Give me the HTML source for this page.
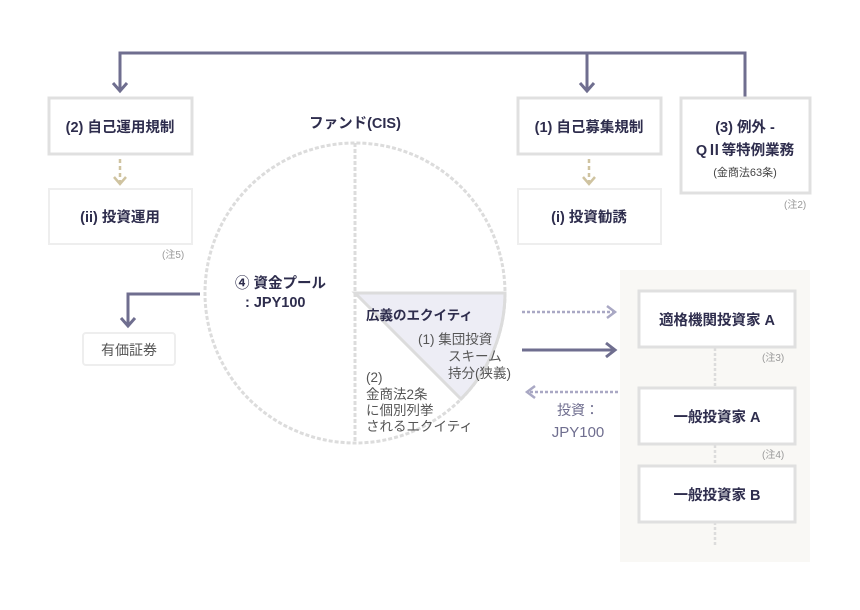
<!DOCTYPE html>
<html><head><meta charset="utf-8"><style>
body{margin:0;background:#fff;}
svg{display:block;font-family:"Liberation Sans","Noto Sans CJK JP",sans-serif;}
.b{font-weight:bold;fill:#2e2d4d;font-size:14.5px;}
.n{fill:#999;font-size:10px;}
.g{fill:#555;font-size:13.5px;}
</style></head><body>
<svg width="860" height="610" viewBox="0 0 860 610">
<g fill="none" stroke="#6f6e8f" stroke-width="3">
<polyline points="120,90 120,53 745,53 745,97"/>
<line x1="587" y1="53" x2="587" y2="90"/>
<polyline points="113,83 120,91 127,83"/>
<polyline points="580,83 587,91 594,83"/>
<polyline points="200,294 128,294 128,325"/>
<polyline points="121,318 128,326 135,318"/>
<line x1="522" y1="350" x2="614" y2="350"/>
<polyline points="606,343 615,350 606,357"/>
</g>
<g fill="none" stroke="#cfc3a0" stroke-width="2.5">
<line x1="120" y1="159" x2="120" y2="182" stroke-dasharray="4,3"/>
<polyline points="114,177 120,184 126,177"/>
<line x1="589" y1="159" x2="589" y2="182" stroke-dasharray="4,3"/>
<polyline points="583,177 589,184 595,177"/>
</g>
<g fill="#fff" stroke="#e0e0e0" stroke-width="3">
<rect x="49" y="98" width="143" height="56"/>
<rect x="518" y="98" width="143" height="56"/>
<rect x="681" y="98" width="129" height="95"/>
</g>
<g fill="#fff" stroke="#eeeeee" stroke-width="2">
<rect x="49" y="189" width="143" height="55"/>
<rect x="518" y="189" width="143" height="55"/>
<rect x="83" y="333" width="92" height="32" rx="3"/>
</g>
<text class="b" x="120" y="132" text-anchor="middle">(2) 自己運用規制</text>
<text class="b" x="120" y="222" text-anchor="middle">(ii) 投資運用</text>
<text class="b" x="589" y="132" text-anchor="middle">(1) 自己募集規制</text>
<text class="b" x="589" y="222" text-anchor="middle">(i) 投資勧誘</text>
<text class="b" x="745" y="132" text-anchor="middle">(3) 例外 -</text>
<text class="b" x="745" y="155" text-anchor="middle">QⅡ等特例業務</text>
<text x="745" y="176" text-anchor="middle" style="font-size:11px;fill:#444">(金商法63条)</text>
<text class="n" x="162" y="258">(注5)</text>
<text class="n" x="784" y="208">(注2)</text>
<text x="129" y="355" text-anchor="middle" style="font-size:14px;fill:#555">有価証券</text>
<text class="b" x="355" y="128" text-anchor="middle">ファンド(CIS)</text>
<path d="M355,293 L505,293 A150,150 0 0 1 461,399 Z" fill="#ededf5" stroke="#dcdcdc" stroke-width="3"/>
<circle cx="355" cy="293" r="150" fill="none" stroke="#dcdcdc" stroke-width="3" stroke-dasharray="4,2"/>
<line x1="355" y1="143" x2="355" y2="443" stroke="#dcdcdc" stroke-width="3" stroke-dasharray="4,2"/>
<text class="b" x="235" y="288">④ 資金プール</text>
<text class="b" x="245" y="307">: JPY100</text>
<text class="b" x="366" y="320" style="font-size:13.5px">広義のエクイティ</text>
<text class="g" x="418" y="344">(1) 集団投資</text>
<text class="g" x="448" y="361">スキーム</text>
<text class="g" x="448" y="378">持分(狭義)</text>
<text class="g" x="366" y="382">(2)</text>
<text class="g" x="366" y="399">金商法2条</text>
<text class="g" x="366" y="415">に個別列挙</text>
<text class="g" x="366" y="431">されるエクイティ</text>
<rect x="620" y="270" width="190" height="292" fill="#f9f8f5"/>
<g stroke="#dcdcdc" stroke-width="2.5" stroke-dasharray="3,2">
<line x1="715" y1="348" x2="715" y2="387"/>
<line x1="715" y1="445" x2="715" y2="465"/>
<line x1="715" y1="522" x2="715" y2="545"/>
</g>
<g fill="#fff" stroke="#e0e0e0" stroke-width="3">
<rect x="639" y="291" width="156" height="56"/>
<rect x="639" y="388" width="156" height="56"/>
<rect x="639" y="466" width="156" height="56"/>
</g>
<text class="b" x="717" y="325" text-anchor="middle">適格機関投資家 A</text>
<text class="b" x="717" y="422" text-anchor="middle">一般投資家 A</text>
<text class="b" x="717" y="500" text-anchor="middle">一般投資家 B</text>
<text class="n" x="762" y="361">(注3)</text>
<text class="n" x="762" y="458">(注4)</text>
<g fill="none" stroke="#a9a8c4" stroke-width="2.5">
<line x1="522" y1="312" x2="614" y2="312" stroke-dasharray="3,2"/>
<polyline points="607,306 615,312 607,318"/>
<line x1="530" y1="392" x2="620" y2="392" stroke-dasharray="3,2"/>
<polyline points="535,386 527,392 535,398"/>
</g>
<text x="578" y="415" text-anchor="middle" style="font-size:14px;fill:#6f6e8f">投資：</text>
<text x="578" y="437" text-anchor="middle" style="font-size:15px;fill:#6f6e8f">JPY100</text>
</svg>
</body></html>
